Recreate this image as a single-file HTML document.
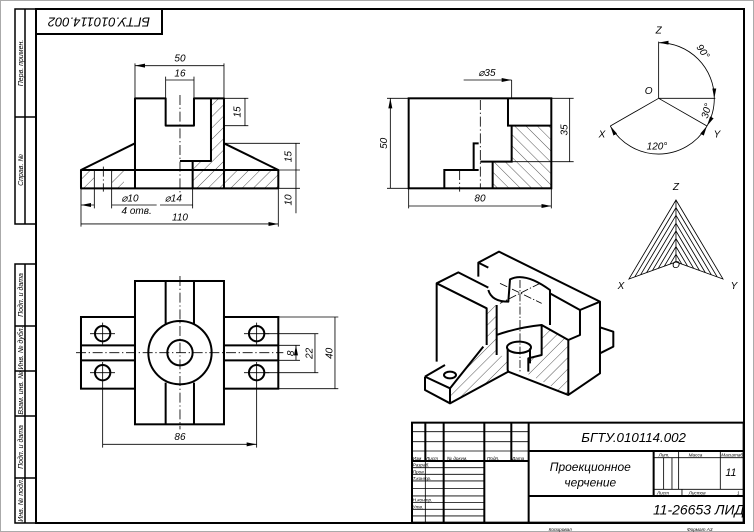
<!DOCTYPE html>
<html><head><meta charset="utf-8"><style>
html,body{margin:0;padding:0;background:#fff}
svg{display:block}
text{font-family:"Liberation Sans",sans-serif;font-style:italic;fill:#000}
</style></head><body>
<svg width="754" height="532" viewBox="0 0 754 532" xmlns="http://www.w3.org/2000/svg">
<defs>
<pattern id="h1" width="24" height="24" patternUnits="userSpaceOnUse" patternTransform="rotate(45)"><line x1="0" y1="0" x2="0" y2="24" stroke="#000" stroke-width="2"/></pattern>
<pattern id="h2" width="24" height="24" patternUnits="userSpaceOnUse" patternTransform="rotate(-45)"><line x1="0" y1="0" x2="0" y2="24" stroke="#000" stroke-width="2"/></pattern>
<marker id="ar3" viewBox="0 0 10 6" refX="10" refY="3" markerWidth="30" markerHeight="18" orient="auto-start-reverse" markerUnits="userSpaceOnUse"><path d="M0,1L10,3L0,5Z" fill="#000"/></marker>
</defs>
<rect x="0.5" y="0.5" width="753" height="531" fill="none" stroke="#aaa" stroke-width="1"/>
<rect x="36" y="9" width="708" height="514" fill="none" stroke="#000" stroke-width="2"/>
<!-- left strip -->
<g fill="none" stroke="#000" stroke-width="1.5">
<rect x="15" y="9" width="21" height="215"/><line x1="25" y1="9" x2="25" y2="224"/><line x1="15" y1="117" x2="36" y2="117"/>
<rect x="15" y="264" width="21" height="259"/><line x1="25" y1="264" x2="25" y2="523"/>
<line x1="15" y1="326" x2="36" y2="326"/><line x1="15" y1="371" x2="36" y2="371"/><line x1="15" y1="416" x2="36" y2="416"/><line x1="15" y1="478" x2="36" y2="478"/>
</g>
<g font-size="7" text-anchor="middle">
<text transform="translate(23,63) rotate(-90)">Перв. примен.</text>
<text transform="translate(23,170) rotate(-90)">Справ. №</text>
<text transform="translate(23,295) rotate(-90)">Подп. и дата</text>
<text transform="translate(23,348) rotate(-90)">Инв. № дубл.</text>
<text transform="translate(23,393) rotate(-90)">Взам. инв. №</text>
<text transform="translate(23,447) rotate(-90)">Подп. и дата</text>
<text transform="translate(23,500) rotate(-90)">Инв. № подл.</text>
</g>
<rect x="36" y="9" width="126" height="25" fill="none" stroke="#000" stroke-width="2"/>
<text transform="translate(99,21) rotate(180)" font-size="13" text-anchor="middle" dominant-baseline="middle">БГТУ.010114.002</text>

<!-- FRONT VIEW -->
<g transform="scale(0.3333)">
<path d="M633,295H672V510H835V565H578V483H633Z" fill="url(#h1)"/>
<rect x="243" y="510" width="40" height="55" fill="url(#h1)"/>
<rect x="335" y="510" width="37" height="55" fill="url(#h1)"/>
<g fill="none" stroke="#000" stroke-width="6" stroke-linejoin="round">
<path d="M405,565V295H497V377H582V295H672V565"/>
<rect x="243" y="510" width="592" height="55"/>
<path d="M243,510L405,430M672,430L835,510"/>
<path d="M633,295V483H540M578,483V565"/>
</g>
<g fill="none" stroke="#000" stroke-width="2.5">
<path d="M283,510V565M335,510V565"/>
<path d="M540,285V580M310,500V575" stroke-dasharray="30,8,4,8"/>
<path d="M405,190V295M672,190V295M497,230V295M582,230V295"/>
<path d="M672,295H745M672,377H745M672,430H900M835,510H900M835,565H900"/>
<path d="M243,565V680M835,565V680M283,565V625M335,565V625M578,565V625"/>
<path d="M405,197H672M497,240H582M735,295V377M888,430V510M888,510V640M243,672H835" marker-start="url(#ar3)" marker-end="url(#ar3)"/>
<path d="M243,615H283M335,615H470M578,615H480" marker-start="url(#ar3)"/>
</g>
<g font-size="30" text-anchor="middle">
<text x="540" y="185">50</text><text x="540" y="230">16</text>
<text transform="translate(722,336) rotate(-90)">15</text>
<text transform="translate(875,470) rotate(-90)">15</text>
<text transform="translate(875,600) rotate(-90)">10</text>
<text x="390" y="605">⌀10</text><text x="410" y="642">4 отв.</text>
<text x="520" y="605">⌀14</text><text x="540" y="662">110</text>
</g>
</g>

<!-- SIDE VIEW -->
<g transform="translate(377,0) scale(0.3333)">
<path d="M404,377H523V565H347V485H404Z" fill="url(#h2)"/>
<g fill="none" stroke="#000" stroke-width="6">
<rect x="95" y="295" width="428" height="270"/>
<path d="M393,295V377H523M404,377V485H310M347,485V565"/>
<path d="M202,565V510H305M290,510V430H305"/>
</g>
<g fill="none" stroke="#000" stroke-width="2.5">
<path d="M310,300V565M248,510V575" stroke-dasharray="30,8,4,8"/>
<path d="M30,295H95M30,565H95M523,295H590M404,485H590M95,565V625M523,565V625M404,240V295"/>
<path d="M40,295V565M578,295V485M95,618H523" marker-start="url(#ar3)" marker-end="url(#ar3)"/>
<path d="M260,240H404" marker-end="url(#ar3)"/>
</g>
<g font-size="30" text-anchor="middle">
<text transform="translate(30,430) rotate(-90)">50</text>
<text transform="translate(572,390) rotate(-90)">35</text>
<text x="309" y="605">80</text><text x="330" y="228">⌀35</text>
</g>
<!-- axes -->
<g fill="none" stroke="#000" stroke-width="2.5">
<path d="M845,295V125M845,295L700,378M845,295L990,378M845,295H1015"/>
<path d="M845,128A167,167 0 0 1 1012,295" marker-start="url(#ar3)" marker-end="url(#ar3)"/>
<path d="M1012,295A167,167 0 0 1 990,378" marker-end="url(#ar3)"/>
<path d="M700,378A167,167 0 0 0 990,378" marker-start="url(#ar3)" marker-end="url(#ar3)"/>
</g>
<g font-size="30" text-anchor="middle">
<text x="845" y="100">Z</text><text x="815" y="282">O</text>
<text x="675" y="412">X</text><text x="1020" y="412">Y</text>
<text transform="translate(970,160) rotate(55)">90°</text>
<text transform="translate(998,335) rotate(-75)">30°</text>
<text x="840" y="448">120°</text>
<text x="897" y="570">Z</text>
</g>
<g fill="none" stroke="#000" stroke-width="2.5">
<path d="M897,600L756,837L897,786L1038,837Z"/>
<path d="M897,600V786"/>
<path d="M897,623L773.5,830.6M897,646L790.8,824.5M897,670L809,818M897,693L826.5,811.5M897,716L844,805M897,740L862,798.6M897,763L879.5,792.3"/>
<path d="M897,623L1020.5,830.6M897,646L1003.2,824.5M897,670L985,818M897,693L967.5,811.5M897,716L950,805M897,740L932,798.6M897,763L914.5,792.3"/>
</g>
</g>
<text x="621" y="289" font-size="10" text-anchor="middle">X</text>
<text x="734" y="289" font-size="10" text-anchor="middle">Y</text>
<text x="676" y="268" font-size="10" text-anchor="middle">O</text>

<!-- TOP VIEW -->
<g transform="translate(0,266) scale(0.3333)">
<g fill="none" stroke="#000" stroke-width="6">
<rect x="405" y="45" width="267" height="430"/>
<path d="M497,45V175M582,45V175M497,350V475M582,350V475"/>
<rect x="243" y="153" width="162" height="215"/><rect x="672" y="153" width="163" height="215"/>
<path d="M243,238H405M243,283H405M672,238H835M672,283H835"/>
<circle cx="540" cy="260" r="95" fill="#fff"/><circle cx="540" cy="260" r="38"/>
<circle cx="308" cy="203" r="23"/><circle cx="308" cy="320" r="23"/>
<circle cx="770" cy="203" r="23"/><circle cx="770" cy="320" r="23"/>
</g>
<g fill="none" stroke="#000" stroke-width="2.5">
<path d="M228,260H850M540,30V490" stroke-dasharray="30,8,4,8"/>
<path d="M270,203H345M270,320H345M732,203H808M732,320H808M308,170V235M770,170V235M308,288V545M770,288V545"/>
<path d="M835,238H900M835,283H900M790,203H955M790,320H955M835,153H1015M835,368H1015"/>
<path d="M888,238V283M945,203V320M1005,153V368M308,535H770" marker-start="url(#ar3)" marker-end="url(#ar3)"/>
</g>
<g font-size="30" text-anchor="middle">
<text transform="translate(882,262) rotate(-90)">8</text>
<text transform="translate(938,262) rotate(-90)">22</text>
<text transform="translate(998,262) rotate(-90)">40</text>
<text x="540" y="522">86</text>
</g>
</g>

<!-- ISOMETRIC -->
<g transform="translate(425,240) scale(0.3333)">
<path d="M185,205L215,195V345L245,350L250,395L75,490V445L175,320L185,315Z" fill="url(#h1)"/>
<path d="M350,255L430,300V465L295,395L310,390V350L350,345Z" fill="url(#h1)"/>
<g fill="none" stroke="#000" stroke-width="6" stroke-linejoin="round">
<path d="M160,110V68L222,35L525,185V400L430,465V300L350,255"/>
<path d="M375,160L465,210L525,185M465,210V285L430,300"/>
<path d="M525,262L565,275V320L525,340"/>
<path d="M160,68L190,83M190,150Q200,185 250,185L255,118Q300,95 375,150V255"/>
<path d="M35,365V130L100,97L190,143M35,130L185,205V315"/>
<path d="M215,195V345M215,285Q280,262 350,255V345L310,355V395"/>
<ellipse cx="282" cy="322" rx="36" ry="17"/>
<path d="M248,325V390L250,395M315,325V370"/>
<path d="M0,410L60,375M0,410L75,445L175,320M0,410V450L75,490V445M75,490L250,395L430,465"/>
<ellipse cx="75" cy="405" rx="18" ry="10"/>
</g>
<g fill="none" stroke="#000" stroke-width="2.5" stroke-dasharray="24,6,4,6">
<path d="M285,120V400M225,130L350,190M345,130L225,190"/>
</g>
</g>

<!-- TITLE BLOCK -->
<g transform="translate(377,266) scale(0.3333)">
<g fill="none" stroke="#000" stroke-width="6">
<rect x="105" y="470" width="995" height="300"/>
<path d="M455,470V770M455,555H1100M455,690H1100M830,555V690M105,585H455"/>
<path d="M145,470V585M200,470V770M322,470V770M403,470V585"/>
</g>
<g fill="none" stroke="#000" stroke-width="2.5">
<path d="M105,497H455M105,527H455M105,555H455M105,605H322M105,625H322M105,645H322M105,668H322M105,690H322M105,710H322M105,730H322M105,750H322"/>
<path d="M145,585V770M830,575H1100M830,670H1100M905,555V670M1030,555V670M860,575V670M885,575V670M915,670V690"/>
</g>
<g font-size="14">
<text x="107" y="582">Изм</text><text x="147" y="582">Лист</text><text x="210" y="582">№ докум.</text><text x="330" y="582">Подп.</text><text x="405" y="582">Дата</text>
<text x="107" y="602">Разраб.</text><text x="107" y="622">Пров.</text><text x="107" y="642">Т.контр.</text>
<text x="107" y="706">Н.контр.</text><text x="107" y="727">Утв.</text>
<text x="845" y="572">Лит.</text><text x="935" y="572">Масса</text><text x="1033" y="572">Масштаб</text>
<text x="840" y="686">Лист</text><text x="935" y="686">Листов</text><text x="1080" y="686">1</text>
</g>
<text x="770" y="528" font-size="40" text-anchor="middle">БГТУ.010114.002</text>
<text x="640" y="615" font-size="36" text-anchor="middle">Проекционное</text>
<text x="640" y="662" font-size="36" text-anchor="middle">черчение</text>
<text x="1062" y="630" font-size="32" text-anchor="middle">11</text>
<text x="965" y="745" font-size="42" text-anchor="middle">11-26653 ЛИД</text>
<text x="515" y="795" font-size="14">Копировал</text>
<text x="930" y="795" font-size="14">Формат  А3</text>
</g>
</svg>
</body></html>
